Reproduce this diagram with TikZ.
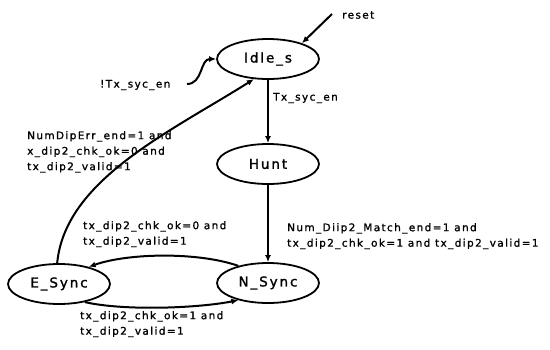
\documentclass[tikz,border=0pt]{standalone}
\usepackage{fontspec}
\setmainfont{DejaVu Sans}
\newfontfamily\lblfont[LetterSpace=13,FakeBold=1.2]{DejaVu Sans}
\newfontfamily\stfont[LetterSpace=14,FakeBold=1.4]{DejaVu Sans}
\usetikzlibrary{arrows.meta,shapes.geometric}
\begin{document}
\begin{tikzpicture}[x=1pt,y=-1pt,
  state/.style={draw,ellipse,line width=1.8pt,minimum width=102pt,minimum height=40pt,inner sep=0pt,font=\stfont\fontsize{13.5}{15}\selectfont},
  lbl/.style={font=\lblfont\fontsize{10.5}{15.5}\selectfont,align=left,anchor=north west,inner sep=0pt},
  tr/.style={line width=2pt,-{Latex[length=7pt,width=6pt]}}]
\useasboundingbox (0,0) rectangle (550,349);
\node[state] (idle) at (268,59) {Idle\_s};
\node[state] (hunt) at (268,164) {Hunt};
\node[state] (esync) at (59,284) {E\_Sync};
\node[state] (nsync) at (268,283) {N\_Sync};
\coordinate (r0) at (332,14);
\coordinate (s0) at (187,84);
\draw[tr] (r0) -- (idle.25);
\node[lbl,anchor=west] (lreset) at (342,15) {reset};
\draw[tr] (idle) -- (hunt);
\node[lbl,anchor=west] (ltx) at (273,98) {Tx\_syc\_en};
\draw[tr] (hunt) -- (nsync);
\node[lbl] (lmatch) at (287,223) {Num\_Diip2\_Match\_end=1 and\\tx\_dip2\_chk\_ok=1 and tx\_dip2\_valid=1};
\draw[tr] (s0) .. controls (203,84) and (200,59) .. (idle.west);
\node[lbl,anchor=west] (lntx) at (100,85) {!Tx\_syc\_en};
\draw[tr] (esync.95) .. controls (65,180) and (170,132) .. (idle.235);
\node[lbl] (lerr) at (27,131) {NumDipErr\_end=1 and\\x\_dip2\_chk\_ok=0 and\\tx\_dip2\_valid=1};
\draw[tr] (nsync.150) .. controls +(-40,-14) and +(40,-14) .. (esync.30);
\node[lbl] (l0) at (83,221) {tx\_dip2\_chk\_ok=0 and\\tx\_dip2\_valid=1};
\draw[tr] (esync.-35) .. controls +(40,9) and +(-40,8) .. (nsync.-150);
\node[lbl] (l1) at (80,311) {tx\_dip2\_chk\_ok=1 and\\tx\_dip2\_valid=1};
\end{tikzpicture}
\end{document}
